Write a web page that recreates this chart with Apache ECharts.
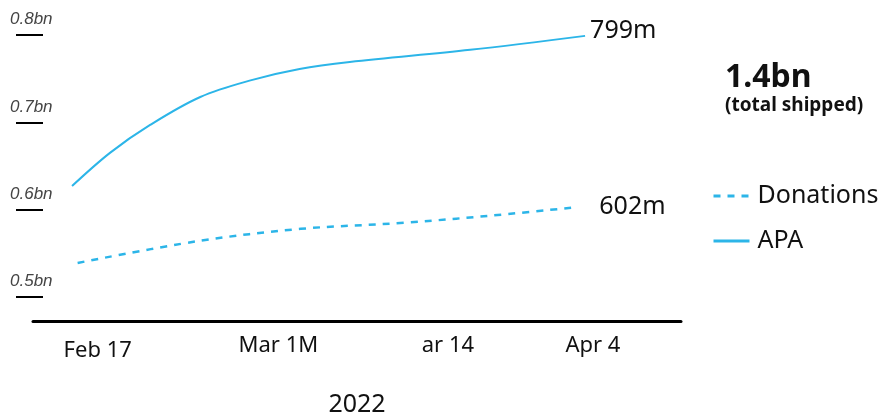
<!DOCTYPE html>
<html>
<head>
<meta charset="utf-8">
<style>
  html, body { margin: 0; padding: 0; background: #fff; }
  #chart { width: 879px; height: 412px; }
</style>
<script src="https://cdn.jsdelivr.net/npm/echarts@6/dist/echarts.min.js"></script>
</head>
<body>
<div id="chart"></div>
<script>
// days counted from Feb 17 2022
var apaDays = [0, 3.4, 7, 11.5, 16, 20.4, 24.9, 35.7, 46];
var apaValues = [0.627, 0.665, 0.697, 0.729, 0.748, 0.761, 0.769, 0.783, 0.799];
var donationDays = [0.5, 11.3, 20.5, 29.8, 39.1, 45.3];
var donationValues = [0.539, 0.564, 0.578, 0.585, 0.595, 0.603];

var yTicks = [0.5, 0.6, 0.7, 0.8];
var xTickDays = [2.3, 18.5, 33.7, 46.7];
var xTickLabels = ['Feb 17', 'Mar 1M', 'ar 14', 'Apr 4'];
var endLabels = { APA: '799m', Donations: '602m' };

function pairs(xs, ys) {
  return xs.map(function (x, i) { return [x, ys[i]]; });
}

var blue = '#2cb5e8';
var font = 'Noto Sans';
var myChart = echarts.init(document.getElementById('chart'));

var option = {
  animation: false,
  title: {
    text: '1.4bn',
    subtext: '(total shipped)',
    left: 720,
    top: 57,
    itemGap: 2,
    textStyle: { fontFamily: font, fontWeight: 'bold', fontSize: 32, color: '#111' },
    subtextStyle: { fontFamily: font, fontWeight: 'bold', fontSize: 19, color: '#111' }
  },
  legend: {
    orient: 'vertical',
    left: 712,
    top: 183,
    padding: 0,
    itemWidth: 36,
    itemHeight: 14,
    itemGap: 19,
    itemStyle: { opacity: 0 },
    lineStyle: { width: 3 },
    data: ['Donations', 'APA'],
    textStyle: { fontFamily: font, fontSize: 25, lineHeight: 26, color: '#111', padding: [0, 0, 0, 3] }
  },
  grid: { left: 33, right: 198, top: 35, bottom: 91, outerBoundsMode: 'none' },
  xAxis: {
    type: 'value',
    min: -3.5,
    max: 54.6,
    name: '2022',
    nameLocation: 'middle',
    nameGap: 71,
    nameTextStyle: { fontFamily: font, fontSize: 25, color: '#111' },
    splitLine: { show: false },
    axisLine: { show: true, onZero: false, lineStyle: { color: '#000', width: 3 } },
    axisTick: { show: false },
    axisLabel: {
      customValues: xTickDays,
      margin: 14,
      fontFamily: font,
      fontSize: 22,
      color: '#111',
      formatter: function (v) {
        var i = xTickDays.indexOf(v);
        return i === 0 ? '{low|' + xTickLabels[i] + '}' : xTickLabels[i];
      },
      rich: { low: { fontFamily: font, fontSize: 22, color: '#111', padding: [5, 0, 0, 0] } }
    }
  },
  yAxis: {
    type: 'value',
    min: 0.4725,
    max: 0.8,
    offset: 17,
    splitLine: { show: false },
    axisLine: { show: false, onZero: false },
    axisTick: {
      show: true,
      inside: true,
      customValues: yTicks,
      length: 27,
      lineStyle: { color: '#000', width: 2 }
    },
    axisLabel: {
      customValues: yTicks,
      align: 'left',
      verticalAlign: 'bottom',
      margin: 6,
      padding: [0, 0, 7, 0],
      fontFamily: 'Liberation Sans',
      fontStyle: 'italic',
      fontSize: 17,
      color: '#444',
      formatter: function (v) { return v.toFixed(1) + 'bn'; }
    }
  },
  series: [
    {
      name: 'Donations',
      type: 'line',
      smooth: 0.35,
      symbol: 'none',
      data: pairs(donationDays, donationValues),
      lineStyle: { color: blue, width: 2.5, type: [7, 7] },
      itemStyle: { color: blue },
      endLabel: {
        show: true,
        distance: 22,
        fontFamily: font,
        fontSize: 25,
        color: '#111',
        formatter: function () { return endLabels.Donations; }
      }
    },
    {
      name: 'APA',
      type: 'line',
      smooth: 0.35,
      symbol: 'none',
      data: pairs(apaDays, apaValues),
      lineStyle: { color: blue, width: 2 },
      itemStyle: { color: blue },
      endLabel: {
        show: true,
        distance: 5,
        offset: [0, -5],
        fontFamily: font,
        fontSize: 25,
        color: '#111',
        formatter: function () { return endLabels.APA; }
      }
    }
  ]
};

myChart.setOption(option);
</script>
</body>
</html>
